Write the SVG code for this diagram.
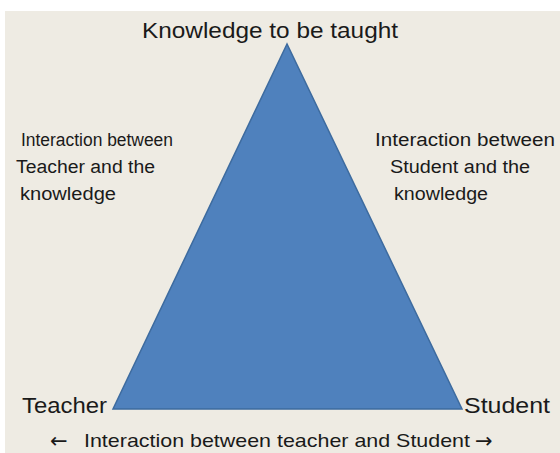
<svg xmlns="http://www.w3.org/2000/svg" width="560" height="453" viewBox="0 0 560 453">
<style>
text{font-family:"Liberation Sans","DejaVu Sans",sans-serif;fill:#1a1a1a}
.big{font-size:22px}
.mid{font-size:18px}
.bot{font-size:19px}
.arr{font-family:"DejaVu Sans",sans-serif;font-size:21px}
</style>
<rect x="0" y="0" width="560" height="453" fill="#ffffff"/>
<rect x="5" y="11" width="555" height="442" fill="#eeebe3"/>
<g id="triangle">
<polygon points="287,44 113,409 462,409" fill="#4f81bd" stroke="#3d6b9f" stroke-width="1.5"/>
</g>
<g id="knowledge"><text class="big" x="142" y="38" textLength="256" lengthAdjust="spacingAndGlyphs">Knowledge to be taught</text></g>
<g id="teacher"><text class="big" x="22" y="413" textLength="85" lengthAdjust="spacingAndGlyphs">Teacher</text></g>
<g id="student"><text class="big" x="464" y="413" textLength="86" lengthAdjust="spacingAndGlyphs">Student</text></g>
<g id="left-label">
<text class="mid" x="21" y="146" textLength="152" lengthAdjust="spacingAndGlyphs">Interaction between</text>
<text class="mid" x="16" y="173" textLength="139" lengthAdjust="spacingAndGlyphs">Teacher and the</text>
<text class="mid" x="20" y="200" textLength="96" lengthAdjust="spacingAndGlyphs">knowledge</text>
</g>
<g id="right-label">
<text class="mid" x="375" y="146" textLength="180" lengthAdjust="spacingAndGlyphs">Interaction between</text>
<text class="mid" x="390" y="173" textLength="140" lengthAdjust="spacingAndGlyphs">Student and the</text>
<text class="mid" x="394" y="200" textLength="94" lengthAdjust="spacingAndGlyphs">knowledge</text>
</g>
<g id="connectors"></g>
<g id="bottom-label">
<text class="arr" x="50" y="448">←</text>
<text class="bot" x="84" y="447" textLength="386" lengthAdjust="spacingAndGlyphs">Interaction between teacher and Student</text>
<text class="arr" x="475" y="448">→</text>
</g>
</svg>
